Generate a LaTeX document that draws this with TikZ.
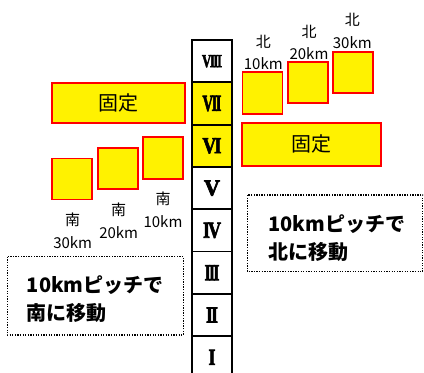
\documentclass[tikz,border=0pt]{standalone}
\usepackage{fontspec}
\setmainfont{Liberation Serif}
\newfontfamily\jpfont{Noto Sans CJK JP}
\newfontfamily\rnfont[FakeBold=3]{Liberation Serif Bold}
\newcommand\rnum[3]{\resizebox{#1}{#2}{\rnfont\fontsize{20}{20}\selectfont #3}}
\newcommand\kk{\kern-2.2pt}
\begin{document}
\begin{tikzpicture}[x=1pt,y=-1pt,
  ybox/.style={draw=red, fill=yellow, line width=1.8pt, inner sep=0pt},
  cell/.style={draw=black, line width=1.8pt, minimum width=40pt, minimum height=42.3pt, inner sep=0pt},
  lbl/.style={font=\jpfont\fontsize{15}{15}\selectfont, inner sep=0pt},
  fixtxt/.style={font=\jpfont\fontsize{20}{20}\selectfont},
  note/.style={draw=black, line width=1.3pt, dash pattern=on 1.3pt off 1.3pt},
  notetxt/.style={font=\jpfont\bfseries\fontsize{20}{28}\selectfont, align=left, anchor=west, inner sep=0pt}
]
\useasboundingbox (0,0) rectangle (424,373);
\clip (0,0) rectangle (424,373);
% column
\node[cell, fill=white]  (c8) at (212, 61.2) {\rnum{20pt}{12pt}{V\kk I\kk I\kk I}};
\node[cell, fill=yellow] (c7) at (212,103.5) {\rnum{19pt}{15pt}{V\kk I\kk I}};
\node[cell, fill=yellow] (c6) at (212,145.8) {\rnum{19pt}{15pt}{V\kk I}};
\node[cell, fill=white]  (c5) at (212,188.1) {\rnum{16pt}{15pt}{V}};
\node[cell, fill=white]  (c4) at (212,230.4) {\rnum{18pt}{15pt}{I\kk V}};
\node[cell, fill=white]  (c3) at (212,272.7) {\rnum{15pt}{15pt}{I\kk I\kk I}};
\node[cell, fill=white]  (c2) at (212,315.0) {\rnum{12pt}{15pt}{I\kk I}};
\node[cell, fill=white]  (c1) at (212,357.3) {\rnum{7pt}{15pt}{I}};
% right side
\node[ybox, minimum width=40pt, minimum height=42pt] (n10) at (262.5,93) {};
\node[ybox, minimum width=40pt, minimum height=41pt] (n20) at (307.8,82.7) {};
\node[ybox, minimum width=40pt, minimum height=41pt] (n30) at (352.8,72.5) {};
\node[ybox, minimum width=139pt, minimum height=43pt, fixtxt] (fr) at (311.7,144.2) {固定};
\node[lbl] (n10a) at (263.3,41.7) {北};
\node[lbl] (n10b) at (263.3,63.3) {10km};
\node[lbl] (n20a) at (309,31.7) {北};
\node[lbl] (n20b) at (309,53.3) {20km};
\node[lbl] (n30a) at (352.3,20) {北};
\node[lbl] (n30b) at (352.3,42.7) {30km};
% left side
\node[ybox, minimum width=133pt, minimum height=40pt, fixtxt] (fl) at (118.2,103.2) {固定};
\node[ybox, minimum width=40pt, minimum height=41pt] (s30) at (72.2,179) {};
\node[ybox, minimum width=40pt, minimum height=41pt] (s20) at (117.8,168.5) {};
\node[ybox, minimum width=40pt, minimum height=42pt] (s10) at (163.3,158) {};
\node[lbl] (s30a) at (72.7,220) {南};
\node[lbl] (s30b) at (72.7,242.7) {30km};
\node[lbl] (s20a) at (118.7,209.3) {南};
\node[lbl] (s20b) at (118.7,232.7) {20km};
\node[lbl] (s10a) at (163,198.3) {南};
\node[lbl] (s10b) at (163,221.7) {10km};
% notes
\draw[note] (7.3,256.7) rectangle (183.3,335);
\node[notetxt] (tl) at (26.7,299) {10kmピッチで\\南に移動};
\draw[note] (247.3,195) rectangle (422.7,271.7);
\node[notetxt] (tr) at (268.3,238.3) {10kmピッチで\\北に移動};
\end{tikzpicture}
\end{document}
